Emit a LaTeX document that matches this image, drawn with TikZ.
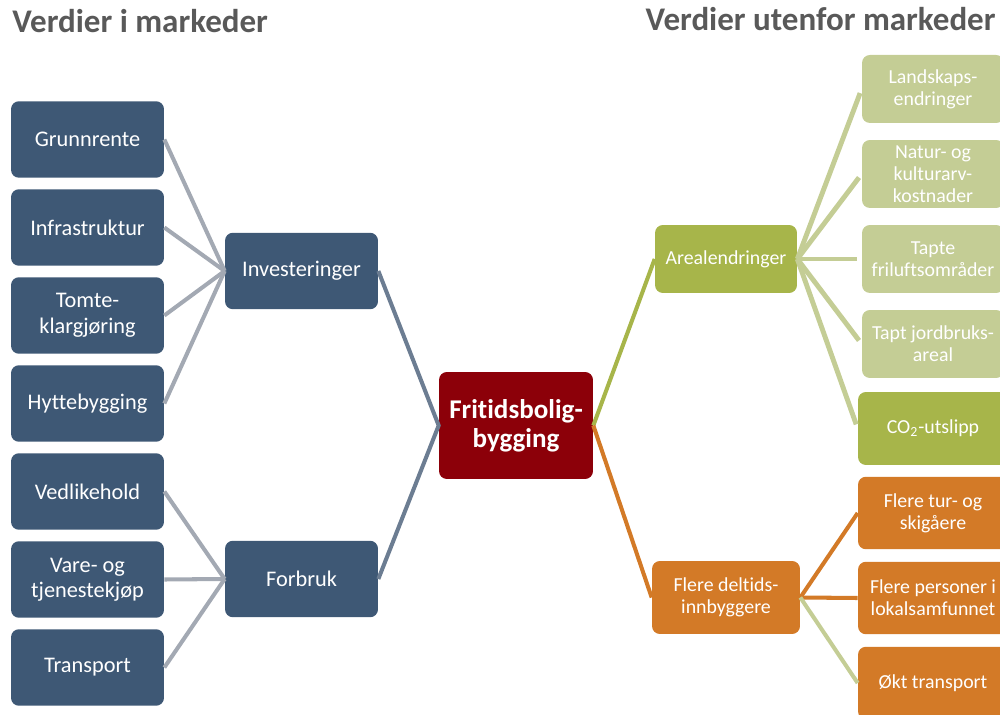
\documentclass[tikz,border=0pt]{standalone}
\usepackage{fontspec}
\setmainfont{Carlito}[Ligatures=NoCommon]
\definecolor{kasseblaa}{HTML}{3E5875}
\definecolor{linjegraa}{HTML}{A3A9B3}
\definecolor{skifer}{HTML}{6C7D92}
\definecolor{vinrod}{HTML}{8C0009}
\definecolor{olivengronn}{HTML}{A7B54A}
\definecolor{lysgronn}{HTML}{C4CD95}
\definecolor{oransje}{HTML}{D37A27}
\definecolor{tittelgraa}{HTML}{595959}

\begin{document}
\begin{tikzpicture}[x=0.02cm,y=-0.02cm,
	boks/.style={rounded corners=4.5pt, text=white, align=center, inner sep=0pt,
		font=\fontsize{12.7}{14.5}\selectfont},
	hboks/.style={boks, font=\fontsize{11.3}{12.6}\selectfont},
	blaboks/.style={boks, fill=kasseblaa, minimum width=3.06cm, minimum height=1.53cm},
	gronnboks/.style={hboks, fill=lysgronn, minimum width=2.84cm, minimum height=1.36cm},
	oransjeboks/.style={hboks, fill=oransje, minimum width=3cm, minimum height=1.45cm},
	tittel/.style={text=tittelgraa, inner sep=0pt, font=\fontsize{18.8}{22}\selectfont\bfseries},
	strek/.style={line width=2.3pt}]
	\clip (0,0) rectangle (1000,715);
	\useasboundingbox (0,0) rectangle (1000,715);

	% overskrifter
	\node[tittel, anchor=base west] (tv) at (12,33) {Verdier i markeder};
	\node[tittel, anchor=base east] (th) at (996,31) {Verdier utenfor markeder};

	% verdier i markeder
	\node[blaboks] (grunn) at (87.5,139.5) {Grunnrente};
	\node[blaboks] (infra) at (87.5,227.5) {Infrastruktur};
	\node[blaboks] (tomte) at (87.5,315.5) {Tomte-\\klargjøring};
	\node[blaboks] (hytte) at (87.5,403.5) {Hyttebygging};
	\node[blaboks] (vedl) at (87.5,491.5) {Vedlikehold};
	\node[blaboks] (vare) at (87.5,579.5) {Vare- og\\tjenestekjøp};
	\node[blaboks] (transp) at (87.5,667.5) {Transport};
	\node[blaboks] (inv) at (301.5,271) {Investeringer};
	\node[blaboks] (forbr) at (301.5,579) {Forbruk};

	% midten
	\node[boks, fill=vinrod, minimum width=3.08cm, minimum height=2.14cm,
		font=\fontsize{15.4}{16.4}\selectfont\bfseries] (fritid) at (516,425.5) {Fritidsbolig-\\bygging};

	% verdier utenfor markeder
	\node[hboks, fill=olivengronn, minimum width=2.84cm, minimum height=1.36cm] (areal) at (726,259) {Arealendringer};
	\node[oransjeboks, minimum width=2.96cm, minimum height=1.46cm] (deltid) at (726,597.5) {Flere deltids-\\innbyggere};
	\node[gronnboks] (landsk) at (933,89) {Landskaps-\\endringer};
	\node[gronnboks] (natur) at (933,174) {Natur- og\\kulturarv-\\kostnader};
	\node[gronnboks] (friluft) at (933,259) {Tapte\\friluftsområder};
	\node[gronnboks] (jord) at (933,344) {Tapt jordbruks-\\areal};
	\node[hboks, fill=olivengronn, minimum width=3cm, minimum height=1.46cm] (co2) at (933,428.5) {CO\textsubscript{2}-utslipp};
	\node[oransjeboks] (tur) at (933,513) {Flere tur- og\\skigåere};
	\node[oransjeboks] (pers) at (933,598) {Flere personer i\\lokalsamfunnet};
	\node[oransjeboks] (okt) at (933,683) {Økt transport};

	% streker
	\foreach \n in {grunn,infra,tomte,hytte}
		\draw[strek, linjegraa] (\n.east) -- (inv.west);
	\foreach \n in {vedl,vare,transp}
		\draw[strek, linjegraa] (\n.east) -- (forbr.west);
	\draw[strek, skifer] (inv.east) -- (fritid.west) -- (forbr.east);
	\draw[strek, olivengronn] (fritid.east) -- (areal.west);
	\draw[strek, oransje] (fritid.east) -- (deltid.west);
	\foreach \n in {landsk,natur,friluft,jord,co2}
		\draw[strek, lysgronn, line width=2.8pt, shorten >=2.5pt] (areal.east) -- (\n.west);
	\draw[strek, oransje] (deltid.east) -- (tur.west);
	\draw[strek, oransje] (deltid.east) -- (pers.west);
	\draw[strek, lysgronn] (deltid.east) -- (okt.west);
\end{tikzpicture}
\end{document}
